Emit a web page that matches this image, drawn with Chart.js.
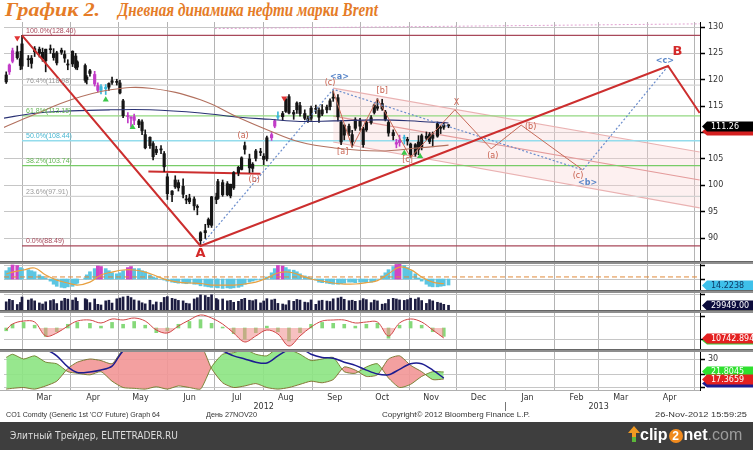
<!DOCTYPE html>
<html>
<head>
<meta charset="utf-8">
<title>Brent</title>
<script src="https://cdn.jsdelivr.net/npm/chart.js@4.4.1/dist/chart.umd.min.js"></script>
<style>
  html, body { margin: 0; padding: 0; background: #fff; }
  body { width: 753px; height: 450px; position: relative; overflow: hidden; font-family: "DejaVu Sans", sans-serif; }
  canvas { position: absolute; left: 0; }
  .sep { position: absolute; left: 0; width: 753px; height: 3px; background: #8e8e8e; border-top: 1px solid #666; box-sizing: border-box; }
  .fit { position: absolute; white-space: pre; transform-origin: left top; }
  .title { top: -1px; font: italic bold 19px "Liberation Serif", serif; color: #e57c27; }
  .foot { top: 411px; font: 7px "Liberation Sans", sans-serif; color: #333; }
  #bar { position: absolute; left: 0; top: 422px; width: 753px; height: 28px; background: #3e3e3e; }
  #site { left: 10px; top: 429px; font: 11px "DejaVu Sans", sans-serif; color: #dcdcdc; }
  #clip { position: absolute; left: 628px; top: 426px; height: 20px; font: bold 16px "Liberation Sans", sans-serif; color: #fff; white-space: nowrap; }
  #clip span.two { display: inline-block; width: 14px; height: 14px; border-radius: 7px; background: #f08a1e; color: #fff; font-size: 12px; text-align: center; line-height: 14px; margin: 0 1px; }
  #clip span.com { color: #9c9c9c; font-weight: normal; }
</style>
</head>
<body>
<div id="t1" class="fit title" style="left:5px">График 2.</div>
<div id="t2" class="fit title" style="left:118px">Дневная динамика нефти марки Brent</div>

<canvas id="cMain"></canvas>
<canvas id="cOsc"></canvas>
<canvas id="cVol"></canvas>
<canvas id="cMacd"></canvas>
<canvas id="cDmi"></canvas>

<div class="sep" style="top:261px"></div>
<div class="sep" style="top:290px"></div>
<div class="sep" style="top:310px"></div>
<div class="sep" style="top:349px"></div>
<div style="position:absolute;left:0;top:390px;width:700px;height:1px;background:#b0b0b0"></div>

<div id="f1" class="fit foot" style="left:6px">CO1 Comdty (Generic 1st 'CO' Future) Graph 64</div>
<div id="f2" class="fit foot" style="left:206px">День 27NOV20</div>
<div id="f3" class="fit foot" style="left:382px">Copyright© 2012 Bloomberg Finance L.P.</div>
<div id="f4" class="fit foot" style="left:655px">26-Nov-2012 15:59:25</div>

<div id="bar"></div>
<div id="site" class="fit">Элитный Трейдер, ELITETRADER.RU</div>
<div id="clip"><svg width="12" height="16" viewBox="0 0 12 16" style="vertical-align:-2px"><polygon points="6,0 12,7 8,7 8,16 4,16 4,7 0,7" fill="#f29a22"/><rect x="4" y="11" width="4" height="5" fill="#5cb83a"/></svg>clip<span class="two">2</span>net<span class="com">.com</span></div>

<script>
// ---- price data (CO1, 2012) ----
const dates = ['2012-02-20','2012-02-22','2012-02-24','2012-02-27','2012-02-29',
  '2012-03-01','2012-03-05','2012-03-07','2012-03-09','2012-03-12','2012-03-14','2012-03-16','2012-03-19','2012-03-21','2012-03-23','2012-03-26','2012-03-28','2012-03-30',
  '2012-04-02','2012-04-04','2012-04-05','2012-04-10','2012-04-11','2012-04-13','2012-04-16','2012-04-18','2012-04-20','2012-04-23','2012-04-25','2012-04-27','2012-04-30',
  '2012-05-02','2012-05-04','2012-05-07','2012-05-09','2012-05-11','2012-05-14','2012-05-16','2012-05-18','2012-05-21','2012-05-23','2012-05-25','2012-05-28','2012-05-30',
  '2012-06-01','2012-06-04','2012-06-06','2012-06-08','2012-06-11','2012-06-13','2012-06-15','2012-06-18','2012-06-20','2012-06-22','2012-06-25','2012-06-27','2012-06-29',
  '2012-07-02','2012-07-03','2012-07-06','2012-07-09','2012-07-11','2012-07-13','2012-07-16','2012-07-18','2012-07-20','2012-07-23','2012-07-25','2012-07-27','2012-07-30',
  '2012-08-01','2012-08-03','2012-08-06','2012-08-08','2012-08-10','2012-08-13','2012-08-15','2012-08-17','2012-08-20','2012-08-22','2012-08-24','2012-08-27','2012-08-29','2012-08-31',
  '2012-09-03','2012-09-05','2012-09-07','2012-09-10','2012-09-12','2012-09-14','2012-09-17','2012-09-19','2012-09-21','2012-09-24','2012-09-26','2012-09-28',
  '2012-10-01','2012-10-03','2012-10-05','2012-10-08','2012-10-10','2012-10-12','2012-10-15','2012-10-17','2012-10-19','2012-10-22','2012-10-24','2012-10-26','2012-10-29','2012-10-31',
  '2012-11-02','2012-11-05','2012-11-07','2012-11-09','2012-11-12','2012-11-14','2012-11-16','2012-11-19','2012-11-21','2012-11-23','2012-11-26'];

const opens = [119.6,121.5,123.5,125.3,124.0,
  122.6,123.8,123.1,125.3,125.8,125.2,123.6,125.8,125.0,123.2,125.2,124.8,122.8,
  123.0,124.5,122.4,122.7,120.0,121.7,121.0,118.9,118.0,118.6,118.6,119.5,119.7,
  119.4,116.0,113.0,112.8,113.0,112.2,112.0,109.6,107.5,107.9,106.2,106.8,106.0,
  101.6,98.2,99.7,100.5,99.8,97.4,96.9,97.4,95.9,89.5,91.0,92.5,92.4,
  97.8,97.5,100.5,98.2,98.0,99.5,102.4,103.0,107.5,105.0,103.2,105.1,106.2,
  105.5,105.0,109.0,111.2,113.0,113.0,114.0,116.8,113.8,114.3,115.1,113.6,112.3,112.7,
  114.4,114.2,113.5,114.3,114.9,116.5,116.6,112.0,109.5,111.2,109.6,110.8,
  112.1,110.7,110.5,111.9,113.8,114.9,114.5,113.9,111.9,110.0,108.1,108.1,108.9,108.4,
  107.8,105.9,108.2,107.1,109.3,108.3,109.5,109.3,110.8,111.0,111.3];
const highs = [121.5,123.0,126.0,126.4,125.4,
  128.4,124.6,124.6,126.3,126.2,126.0,125.8,126.6,125.9,125.4,126.0,125.5,123.8,
  125.5,125.0,123.6,123.0,120.8,122.0,121.6,119.4,119.1,119.1,119.4,120.5,120.1,
  119.9,116.3,113.8,113.0,113.5,112.5,112.4,110.5,109.2,108.3,107.4,107.5,106.4,
  102.2,99.0,101.8,101.0,101.2,98.1,98.3,97.8,96.3,91.2,92.6,93.8,97.9,
  98.5,101.1,101.0,100.7,100.2,102.6,103.6,105.4,108.2,105.9,104.3,106.8,107.0,
  106.0,109.3,110.0,112.5,113.9,114.0,116.5,117.2,114.2,115.8,115.7,114.3,113.1,115.0,
  115.2,114.7,115.3,115.2,116.4,117.9,117.2,112.3,111.5,111.6,110.4,112.8,
  112.7,111.0,112.4,113.2,115.4,116.4,116.3,114.2,112.3,110.5,108.7,109.5,109.5,109.1,
  108.0,107.9,109.4,109.7,110.1,110.0,110.1,112.0,111.3,111.8,111.5];
const lows = [119.3,121.0,123.2,123.9,121.9,
  122.0,122.5,122.2,124.4,124.3,123.5,121.5,125.0,123.7,122.8,124.8,123.3,121.9,
  122.5,122.0,121.9,119.5,119.2,120.7,118.8,117.7,117.3,117.2,118.0,119.1,119.0,
  117.3,112.8,111.8,111.0,111.5,110.9,109.6,106.9,107.0,104.8,105.8,106.0,102.6,
  97.3,96.9,99.4,98.9,97.6,96.5,96.5,95.3,94.4,88.5,89.9,92.0,92.0,
  96.5,97.3,97.9,98.0,97.6,99.2,101.8,102.9,105.9,102.4,102.5,104.6,105.6,
  103.9,104.6,108.5,110.9,112.5,112.3,113.8,113.5,112.5,113.6,113.1,112.4,111.9,112.3,
  113.6,111.9,113.2,113.7,114.3,115.9,112.2,107.7,108.6,109.4,107.2,110.4,
  110.4,107.2,110.2,111.6,113.5,114.2,114.2,112.2,109.3,108.6,107.1,107.4,107.8,107.6,
  105.3,105.5,105.8,106.7,108.6,107.9,107.3,109.1,109.8,110.6,110.9];
const closes = [120.9,122.8,125.5,124.2,122.7,
  126.8,123.8,124.1,125.9,125.0,124.0,125.8,125.7,124.2,125.1,125.6,124.1,122.9,
  125.4,122.3,123.4,119.9,120.5,121.2,119.2,118.0,118.7,118.3,119.3,119.8,119.5,
  117.5,113.2,113.2,112.7,112.3,111.5,110.3,107.1,109.1,105.4,106.8,106.7,103.5,
  98.4,98.9,101.0,99.5,98.3,97.2,97.6,96.1,95.8,91.0,91.4,93.5,97.8,
  97.3,100.7,98.2,100.3,100.2,102.4,103.4,105.2,106.8,103.3,104.0,106.5,106.2,
  104.9,109.0,109.6,112.2,112.9,113.6,116.3,113.7,113.5,115.6,113.6,112.7,112.6,114.6,
  114.4,112.9,114.3,114.8,116.0,116.7,113.0,108.2,111.4,110.0,108.2,112.4,
  111.2,107.7,111.9,112.8,115.2,114.6,115.5,112.5,109.9,109.4,107.8,108.5,109.1,108.7,
  105.7,107.7,106.8,109.4,108.9,109.6,108.9,111.7,110.9,111.4,111.26];
const volumes = [52000,68000,61000,35000,48000,
  82000,63000,71000,58000,45000,38000,52000,60000,66000,41000,57000,74000,69000,
  63000,78000,55000,72000,66000,47000,70000,36000,32000,58000,62000,44000,71000,
  76000,83000,88000,79000,64000,58000,46000,39000,62000,34000,51000,48000,80000,
  85000,74000,69000,61000,58000,43000,40000,70000,78000,96000,92000,81000,97000,
  73000,65000,70000,58000,61000,49000,55000,68000,74000,62000,59000,66000,45000,
  57000,72000,64000,69000,42000,38000,33000,60000,55000,67000,63000,50000,47000,64000,
  36000,58000,62000,57000,54000,71000,76000,82000,68000,59000,62000,55000,
  60000,72000,66000,47000,63000,58000,37000,41000,67000,74000,70000,64000,61000,66000,
  75000,69000,78000,60000,42000,66000,58000,49000,44000,36000,29949];
const oscValues = [28,31,33.5,33,31,
  30,29,28,27,24,22.5,21,18,15,13,12,11.5,12.5,
  13,15,16,21,24,27,30,32.5,32,30,28,26,25,
  26,28,31,32,30,30,28,27,24,22,21,20,19,
  18,17,16.5,16,16,15.5,16,15,15,13.5,13,12.5,12,
  12,11.5,11,11.5,11,11.5,12,13,15,17,18,19,19.5,
  20,22,26,30,33,32.5,31,29,28.5,27,25,23,22,21,
  19,17,16.5,16,15.5,15,15,15.5,16,17,17,16.5,
  17,17,16.5,17,18,20,23,26,29,32,34,34.5,33,31,
  28,25,21,18,15,13,12.5,12.5,13,13.5,14.22];

const setupDates = ['2012-02-22','2012-02-24','2012-04-16','2012-04-18','2012-05-07','2012-05-09','2012-05-11','2012-08-06','2012-08-08','2012-10-24','2012-10-26'];
const cyanDates = ['2012-04-20','2012-04-23','2012-08-10','2012-10-29'];
const oscPeakDates = ['2012-02-24','2012-02-27','2012-04-18','2012-04-20','2012-05-07','2012-05-09','2012-08-10','2012-08-13','2012-10-24','2012-10-26'];

// ---- weekly indicator readings ----
const indDates = ['2012-02-20','2012-02-24','2012-03-02','2012-03-09','2012-03-16','2012-03-23','2012-03-30','2012-04-05','2012-04-13','2012-04-20','2012-04-27',
  '2012-05-04','2012-05-11','2012-05-18','2012-05-25','2012-06-01','2012-06-08','2012-06-15','2012-06-22','2012-06-29','2012-07-06','2012-07-13','2012-07-20','2012-07-27',
  '2012-08-03','2012-08-10','2012-08-17','2012-08-24','2012-08-31','2012-09-07','2012-09-14','2012-09-21','2012-09-28','2012-10-05','2012-10-12','2012-10-19','2012-10-26',
  '2012-11-02','2012-11-09','2012-11-16','2012-11-23'];
const oscSignal = [24.8,26.7,28.7,30.6,23.8,19,16.2,14.2,17,23.8,26.7,28.7,28.7,26.7,22.9,19,17,16.2,15.7,14.2,14.2,14.2,15.2,17,21,25.8,26.7,23.8,20,18,16.2,15.2,15.2,16.5,18.5,25,31.5,29,22,17,15.5];
const macdLine = [-2150,4300,7500,6450,-8600,-5400,2150,7500,8600,5400,9700,8600,10750,7500,-2150,-5400,2150,8600,14000,10750,4300,-5400,-15000,-8600,-2150,-6450,-19400,-8600,1075,7500,8600,8600,5400,6450,6450,-8600,5400,9700,6450,-2150,-10743];
const macdHist = [-3000,4000,6000,3000,-9000,-4000,4000,6000,5000,2000,6000,4000,7000,3000,-5000,-3000,4000,7000,9000,5000,1000,-6000,-12000,-5000,2000,-4000,-14000,-5000,4000,6000,5000,4000,2000,4000,5000,-11000,3000,7000,3000,-4000,-9000];
const plusDI = [31,33,30,32,28,27,22,21,20,22,16,12,11.5,11,12.5,11,13,12,11,25,33,34,36,33,32,37,36,33,29,30,31,22,21,25,27,18,12,14,19,22,21.8];
const minusDI = [11,11.5,12,11,13,16,24,28,30,29,27,36,38,40,38,40,36,37,39,24,15,12,13,14.5,12,11,12,14,16,15,17,25,23,19,20,30,32,26,22,17,17.37];
const adx = [40,40,39,38,36,32,25,21.5,21.8,23,25.5,35,37,40,42,43,43,42,41,37,35,32,30,28,27.5,32,36,37,33,31,30.5,28,26,23,20.5,20,23.5,27,27,23,18];

// ---- moving averages ----
const maDates = ['2012-02-18','2012-03-08','2012-04-01','2012-04-26','2012-05-21','2012-06-22','2012-07-17','2012-08-05','2012-08-24','2012-09-14','2012-10-13','2012-11-08','2012-11-26'];
const maSlow = [110.9,113.3,116.2,118.1,118.4,116.2,112.7,110.3,108.2,107.1,106.5,107.1,107.6];
const maFast = [112.7,113.6,114.1,114.3,114.3,113.7,112.9,112.5,112.1,112.2,112.4,112.1,111.8];

// ---- fibonacci retracement 88.49 -> 128.40 ----
const fibLevels = [100, 76.4, 61.8, 50, 38.2, 23.6, 0];
const fibPrices = [128.40, 118.98, 113.15, 108.44, 103.74, 97.91, 88.49];

// ---- drawn lines and wave marks ----
const trendDates = ['2012-03-01','2012-06-22','2013-04-14','2013-05-04'];
const trendPrices = [128.4, 88.49, 122.6, 113.7];
const supportDates = ['2012-05-20','2012-07-30'];
const supportPrices = [102.6, 102.2];
const waveDates = ['2012-09-14','2012-09-26','2012-10-12','2012-11-02','2012-11-30','2012-12-23','2013-01-11','2013-02-19'];
const wavePrices = [117.9, 107.2, 116.4, 105.3, 114.3, 106.9, 111.4, 102.9];
const cycleDates = ['2012-06-22','2012-09-14','2013-02-19','2013-04-14'];
const cyclePrices = [88.49, 118.2, 102.9, 122.6];
const channelDates = ['2012-09-14','2013-05-04'];
const channelUpper = [118.4, 106.3];
const channelMid = [113.1, 101.0];
const channelLower = [108.2, 95.7];
const topLineDates = ['2012-07-01','2013-05-04'];
const topLinePrices = [129.7, 130.6];

const labelTexts = ['A','B','(a)','(b)','(c)','<a>','[a]','[b]','[c]','X','(a)','(b)','(c)','<b>','<c>'];
const labelDates = ['2012-06-22','2013-04-20','2012-07-19','2012-07-26','2012-09-12','2012-09-18','2012-09-20','2012-10-15','2012-10-31','2012-12-01','2012-12-24','2013-01-17','2013-02-16','2013-02-22','2013-04-12'];
const labelPrices = [87.0, 125.3, 109.3, 101.0, 119.4, 120.5, 106.3, 117.9, 104.8, 115.6, 105.5, 111.0, 101.8, 100.4, 123.6];

const sellDates = ['2012-02-27','2012-08-14'];
const sellPrices = [127.9, 116.5];
const buyDates = ['2012-04-23','2012-05-10','2012-10-29','2012-11-08'];
const buyPrices = [116.2, 111.0, 106.1, 105.5];

// ---- axis ----
const monthStarts = ['2012-03-01','2012-04-01','2012-05-01','2012-06-01','2012-07-01','2012-08-01','2012-09-01','2012-10-01','2012-11-01','2012-12-01','2013-01-01','2013-02-01','2013-03-01','2013-04-01','2013-05-01'];
const monthMids = ['2012-03-15','2012-04-15','2012-05-15','2012-06-15','2012-07-15','2012-08-15','2012-09-15','2012-10-15','2012-11-15','2012-12-15','2013-01-15','2013-02-15','2013-03-15','2013-04-15'];
const monthNames = ['Mar','Apr','May','Jun','Jul','Aug','Sep','Oct','Nov','Dec','Jan','Feb','Mar','Apr'];
const yearDates = ['2012-08-01','2013-01-01','2013-03-01'];
const yearLabels = ['2012','|','2013'];
const priceTicks = [90, 95, 100, 105, 110, 115, 120, 125, 130];

// ---- helpers ----
const T0 = Date.UTC(2012, 0, 1);
function day(s) {
  const [y, m, d] = s.split('-').map(Number);
  return (Date.UTC(y, m - 1, d) - T0) / 864e5;
}
const XMIN = 48.6, XMAX = 489.2;
const pts = (ds, vs) => ds.map((d, i) => ({ x: day(d), y: vs[i] }));
function line(data, color, width, extra) {
  return Object.assign({ type: 'line', data, borderColor: color, borderWidth: width, pointRadius: 0, fill: false, tension: 0 }, extra || {});
}

const startSet = new Set(monthStarts.map(day));
const labelMap = new Map();
monthMids.forEach((d, i) => labelMap.set(day(d), monthNames[i]));
yearDates.forEach((d, i) => labelMap.set(day(d), ['', yearLabels[i]]));
const xTicks = [...new Set([...monthStarts, ...monthMids].map(day))].sort((a, b) => a - b);

function xScale(showLabels) {
  return {
    type: 'linear', min: XMIN, max: XMAX, offset: false,
    afterBuildTicks: s => { s.ticks = xTicks.map(v => ({ value: v })); },
    grid: { offset: false, drawTicks: false, borderDash: [1, 2], lineWidth: 1,
      color: c => (c.tick && startSet.has(c.tick.value)) ? '#b4b4b4' : 'rgba(0,0,0,0)' },
    border: { display: false },
    ticks: { display: showLabels, autoSkip: false, maxRotation: 0, padding: 3, color: '#333',
      font: { family: 'DejaVu Sans', size: 8 },
      callback: v => labelMap.has(v) ? labelMap.get(v) : '' },
    afterFit: s => { s.height = showLabels ? 22 : 0; s.paddingLeft = 0; s.paddingRight = 0; }
  };
}
function yScale(min, max, ticks, label) {
  return {
    position: 'right', min, max, beginAtZero: false,
    afterBuildTicks: s => { s.ticks = ticks.map(v => ({ value: v })); },
    afterFit: s => { s.width = 53; s.paddingTop = 0; s.paddingBottom = 0; },
    grid: { color: '#c6c6c6', borderDash: [1, 2], tickColor: '#000', tickBorderDash: [], tickLength: 5, tickWidth: 1.5 },
    border: { display: true, color: '#000', width: 1 },
    ticks: { padding: 3, color: '#333', font: { family: 'DejaVu Sans', size: 8 }, callback: label }
  };
}

const textLayer = {
  id: 'textLayer',
  afterDatasetsDraw(chart, args, opts) {
    const { ctx, chartArea } = chart;
    const xs = chart.scales.x, ys = chart.scales.y;
    ctx.save();
    (opts.items || []).forEach(it => {
      ctx.font = it.font;
      ctx.fillStyle = it.color;
      ctx.textAlign = it.align || 'center';
      ctx.textBaseline = it.baseline || 'middle';
      ctx.fillText(it.text, xs.getPixelForValue(it.x) + (it.dx || 0), ys.getPixelForValue(it.y) + (it.dy || 0));
    });
    (opts.tags || []).forEach(t => {
      const py = Math.round(ys.getPixelForValue(t.value)) + 0.5;
      const x0 = chartArea.right + 2, hh = t.h || 5;
      ctx.fillStyle = t.bg;
      ctx.beginPath();
      ctx.moveTo(x0, py);
      ctx.lineTo(x0 + 5, py - hh);
      ctx.lineTo(753, py - hh);
      ctx.lineTo(753, py + hh);
      ctx.lineTo(x0 + 5, py + hh);
      ctx.closePath();
      ctx.fill();
      if (t.text) {
        ctx.fillStyle = t.fg;
        ctx.font = '8px "DejaVu Sans"';
        ctx.textAlign = 'left';
        ctx.textBaseline = 'middle';
        ctx.fillText(t.text, x0 + 9, py + 0.5);
      }
    });
    ctx.restore();
  }
};

function panel(id, top, h, cfg) {
  const c = document.getElementById(id);
  c.width = 753; c.height = h; c.style.top = top + 'px';
  return new Chart(c, {
    type: 'bar',
    data: { datasets: cfg.datasets },
    options: {
      responsive: false, animation: false, devicePixelRatio: 1,
      layout: { padding: { left: 4, right: 0, top: 0, bottom: 0 }, autoPadding: false },
      plugins: { legend: { display: false }, tooltip: { enabled: false }, textLayer: cfg.text || {} },
      scales: { x: xScale(!!cfg.labels), y: cfg.y }
    },
    plugins: [textLayer]
  });
}

// ---- main price panel ----
const D = dates.map(day);
const magentaSet = new Set(setupDates), cyanSet = new Set(cyanDates), oscPeakSet = new Set(oscPeakDates);
const candleColor = i => magentaSet.has(dates[i]) ? '#c23cc8' : cyanSet.has(dates[i]) ? '#3cb6d8' : '#151515';

const fibLine = ['#a8485a', '#d4d4d4', '#93d882', '#93dcec', '#78cc68', '#d2d2d2', '#a8485a'];
const fibText = ['#a8485a', '#9a9a9a', '#62b652', '#4ab8d2', '#62b652', '#9a9a9a', '#a8485a'];

const mainSets = [
  line(pts(channelDates, channelUpper), '#eab2b2', 1.2, { fill: '+1', backgroundColor: 'rgba(250,212,212,0.35)', order: 30 }),
  line(pts(channelDates, channelLower), '#eab2b2', 1.2, { order: 29 }),
  line(pts(channelDates, channelMid), '#e49c9c', 1.2, { order: 28 }),
  line(pts(topLineDates, topLinePrices), '#e0a0d0', 1, { borderDash: [2, 2], order: 27 })
];
fibPrices.forEach((p, i) => {
  mainSets.push(line([{ x: day('2012-03-01'), y: p }, { x: XMAX, y: p }], fibLine[i], i === 3 ? 1.6 : 1.2, { order: 26 }));
});
mainSets.push(
  line(pts(maDates, maSlow), '#b2705e', 1.1, { tension: 0.4, order: 6 }),
  line(pts(maDates, maFast), '#2a3274', 1.1, { tension: 0.4, order: 6 }),
  line(pts(supportDates, supportPrices), '#cc2e2e', 2, { order: 12 }),
  { type: 'bar', grouped: false, barThickness: 1, order: 11,
    data: D.map((x, i) => ({ x, y: [lows[i], highs[i]] })),
    backgroundColor: c => candleColor(c.dataIndex) },
  { type: 'bar', grouped: false, barThickness: 2.5, minBarLength: 1, order: 10,
    data: D.map((x, i) => ({ x, y: [opens[i], closes[i]] })),
    backgroundColor: c => candleColor(c.dataIndex) },
  line(pts(waveDates, wavePrices), '#c66a58', 1, { order: 5 }),
  line(pts(cycleDates, cyclePrices), '#6a8ccc', 1.2, { borderDash: [2, 2], order: 4 }),
  line(pts(trendDates, trendPrices), '#cc2e2e', 2, { order: 3 }),
  { type: 'scatter', data: pts(sellDates, sellPrices), pointStyle: 'triangle', rotation: 180, pointRadius: 3.5,
    backgroundColor: '#e03434', borderColor: '#e03434', borderWidth: 0, order: 2 },
  { type: 'scatter', data: pts(buyDates, buyPrices), pointStyle: 'triangle', pointRadius: 3.5,
    backgroundColor: '#3cc84a', borderColor: '#3cc84a', borderWidth: 0, order: 2 }
);

const mainItems = fibLevels.map((lv, i) => ({
  text: lv.toFixed(1) + '%(' + fibPrices[i].toFixed(2) + ')', x: day('2012-03-01'), y: fibPrices[i],
  dx: 4, dy: -1, color: fibText[i], font: '7px "Liberation Sans"', align: 'left', baseline: 'bottom'
}));
labelTexts.forEach((t, i) => {
  let color = '#c8604e', font = '8px "DejaVu Sans"';
  if (t === 'A' || t === 'B') { color = '#d42a2a'; font = 'bold 13px "DejaVu Sans"'; }
  else if (t[0] === '<') { color = '#5b87c9'; font = 'bold 8px "DejaVu Sans"'; }
  mainItems.push({ text: t, x: day(labelDates[i]), y: labelPrices[i], color, font });
});

panel('cMain', 22, 239, {
  datasets: mainSets,
  y: yScale(85.64, 130.95, priceTicks, v => String(v)),
  text: {
    items: mainItems,
    tags: [
      { value: 110.3, bg: '#d42020', h: 4 },
      { text: '111.26', value: closes[closes.length - 1], bg: '#000', fg: '#fff' }
    ]
  }
});

// ---- oscillator ----
panel('cOsc', 263, 28, {
  datasets: [
    { type: 'bar', grouped: false, barThickness: 3, order: 3,
      data: D.map((x, i) => ({ x, y: [20, oscValues[i]] })),
      backgroundColor: c => oscPeakSet.has(dates[c.dataIndex]) ? '#d044c4' : '#5cc6e2' },
    line([{ x: XMIN, y: 22 }, { x: XMAX, y: 22 }], '#e08a3a', 1, { borderDash: [5, 3], order: 2 }),
    line(pts(indDates, oscSignal), '#e8a040', 1.2, { tension: 0.4, order: 1 })
  ],
  y: yScale(8.5, 35.4, [33, 20], () => ''),
  text: { tags: [{ text: '14.2238', value: oscValues[oscValues.length - 1], bg: '#3ec0ea', fg: '#0e3a66' }] }
});

// ---- volume ----
panel('cVol', 293, 17, {
  datasets: [
    { type: 'bar', grouped: false, barThickness: 2, backgroundColor: '#1c1c40',
      data: D.map((x, i) => ({ x, y: volumes[i] })) }
  ],
  y: yScale(0, 108000, [100000], () => ''),
  text: { tags: [{ text: '29949.00', value: volumes[volumes.length - 1], bg: '#0c0c3c', fg: '#fff' }] }
});

// ---- macd ----
panel('cMacd', 313, 36, {
  datasets: [
    { type: 'bar', grouped: false, barThickness: 3, backgroundColor: '#86d97a', order: 2,
      data: pts(indDates, macdHist) },
    line(pts(indDates, macdLine), '#d04444', 1, { tension: 0.35, order: 1,
      fill: { target: 'origin', above: 'rgba(0,0,0,0)', below: 'rgba(240,140,140,0.55)' } })
  ],
  y: yScale(-22575, 16125, [12000, 0, -12000], v => v === 0 ? '0' : ''),
  text: { tags: [
    { value: -12600, bg: '#36c836', h: 4 },
    { text: '10742.8945', value: macdLine[macdLine.length - 1], bg: '#e42020', fg: '#fff' }
  ] }
});

// ---- directional movement ----
panel('cDmi', 352, 60, {
  labels: true,
  datasets: [
    line(pts(indDates, plusDI), 'rgba(110,125,40,0.9)', 1, { tension: 0.2, order: 3,
      fill: { target: 1, above: 'rgba(140,228,130,0.9)', below: 'rgba(242,150,150,0.9)' } }),
    line(pts(indDates, minusDI), 'rgba(120,110,40,0.9)', 1, { tension: 0.2, order: 2 }),
    line(pts(indDates, adx), '#1c1c90', 1.5, { tension: 0.3, order: 1 })
  ],
  y: yScale(10.44, 34.42, [30, 20, 12], v => v === 30 ? '30' : ''),
  text: { tags: [
    { value: adx[adx.length - 1] - 3, bg: '#1c1c90', h: 4 },
    { text: '21.8045', value: plusDI[plusDI.length - 1] + 0.6, bg: '#2ee02e', fg: '#fff' },
    { text: '17.3659', value: minusDI[minusDI.length - 1], bg: '#e42020', fg: '#fff' }
  ] }
});

// squeeze the html texts to the reference widths
function fit(id, w) {
  const el = document.getElementById(id);
  const r = el.getBoundingClientRect().width;
  if (r > 0) el.style.transform = 'scaleX(' + (w / r) + ')';
}
fit('t1', 95); fit('t2', 260);
fit('f1', 154); fit('f2', 51); fit('f3', 148); fit('f4', 92);
fit('site', 168);
</script>
</body>
</html>
